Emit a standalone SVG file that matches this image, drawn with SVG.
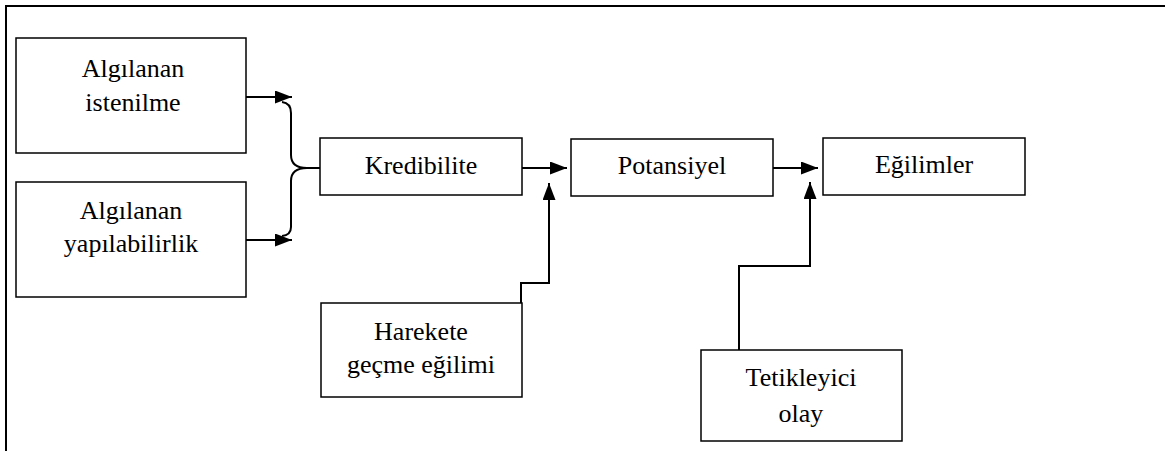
<svg xmlns="http://www.w3.org/2000/svg" width="1165" height="451" viewBox="0 0 1165 451">
<style>
.box{fill:#fff;stroke:#000;stroke-width:1.5}
.t{font-family:'Liberation Serif','Times New Roman',serif;font-size:26px;fill:#000;text-anchor:middle}
.c{fill:none;stroke:#000;stroke-width:2}
.frame{fill:none;stroke:#000;stroke-width:2}
</style>
<defs>
<marker id="ah" markerUnits="userSpaceOnUse" markerWidth="18" markerHeight="14" refX="17" refY="6.5" orient="auto">
<path d="M0,0 L17,6.5 L0,13 Z" fill="#000"/>
</marker>
</defs>
<rect width="1165" height="451" fill="#fff"/>
<path class="frame" d="M6,451 L6,6 L1165,6"/>
<g id="connectors">
<path class="c" d="M246,97 L292,97" marker-end="url(#ah)"/>
<path class="c" d="M246,240 L292,240" marker-end="url(#ah)"/>
<path class="c" d="M282,102 Q291,103 291,113 L291,155 Q291,168 307,168 L320,168 M307,168 Q291,168 291,181 L291,227 Q291,235 282,236"/>
<path class="c" d="M522,168 L567,168" marker-end="url(#ah)"/>
<path class="c" d="M773,168 L818,168" marker-end="url(#ah)"/>
<path class="c" d="M521,303 L521,283 L549,283 L549,183" marker-end="url(#ah)"/>
<path class="c" d="M739,350 L739,266 L810,266 L810,182" marker-end="url(#ah)"/>
</g>
<g id="n1">
<rect class="box" x="16" y="38" width="230" height="115"/>
<text class="t" x="133" y="77">Algılanan</text>
<text class="t" x="133" y="111">istenilme</text>
</g>
<g id="n2">
<rect class="box" x="16" y="182" width="230" height="115"/>
<text class="t" x="131" y="219">Algılanan</text>
<text class="t" x="131" y="252">yapılabilirlik</text>
</g>
<g id="n3">
<rect class="box" x="320" y="138" width="202" height="57"/>
<text class="t" x="421" y="174">Kredibilite</text>
</g>
<g id="n4">
<rect class="box" x="571" y="139" width="202" height="57"/>
<text class="t" x="672" y="174">Potansiyel</text>
</g>
<g id="n5">
<rect class="box" x="823" y="138" width="202" height="57"/>
<text class="t" x="924" y="173">Eğilimler</text>
</g>
<g id="n6">
<rect class="box" x="321" y="303" width="201" height="94"/>
<text class="t" x="421" y="340">Harekete</text>
<text class="t" x="421" y="373">geçme eğilimi</text>
</g>
<g id="n7">
<rect class="box" x="701" y="350" width="201" height="91"/>
<text class="t" x="801" y="386">Tetikleyici</text>
<text class="t" x="801" y="422">olay</text>
</g>
</svg>
